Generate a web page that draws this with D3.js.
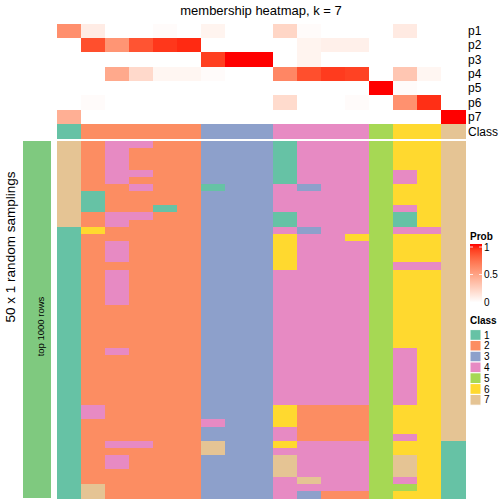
<!DOCTYPE html>
<html><head><meta charset="utf-8">
<script src="https://cdn.jsdelivr.net/npm/d3@7"></script>
<style>body{margin:0;background:#fff}svg{display:block;font-family:"Liberation Sans",Arial,Helvetica,sans-serif}</style>
</head><body><svg id="c" width="504" height="504"></svg>
<script>
// ---- data ----
const columns = d3.range(17).map(i => "s" + (i + 1));
const classLevels = [1, 2, 3, 4, 5, 6, 7];
const classColors = ["#66C2A5", "#FC8D62", "#8DA0CB", "#E78AC3", "#A6D854", "#FFD92F", "#E5C494"];
const columnClass = [1, 2, 2, 2, 2, 2, 3, 3, 3, 4, 4, 4, 4, 5, 6, 6, 7];
const probNames = ["p1", "p2", "p3", "p4", "p5", "p6", "p7"];
const p1 = [0.58, 0.10, 0, 0, 0.02, 0, 0.06, 0, 0, 0.22, 0.02, 0, 0, 0, 0.11, 0, 0];
const p2 = [0, 0.85, 0.55, 0.83, 0.92, 0.95, 0, 0, 0, 0, 0.06, 0.08, 0.08, 0, 0, 0, 0];
const p3 = [0, 0, 0, 0, 0, 0, 0.90, 1, 1, 0, 0.06, 0, 0, 0, 0, 0, 0];
const p4 = [0, 0, 0.45, 0.20, 0.05, 0.05, 0.02, 0, 0, 0.62, 0.85, 0.91, 0.89, 0, 0.30, 0.05, 0];
const p5 = [0, 0, 0, 0, 0, 0, 0, 0, 0, 0, 0, 0, 0, 1, 0.02, 0, 0];
const p6 = [0, 0.02, 0, 0, 0, 0, 0, 0, 0, 0.19, 0, 0, 0.02, 0, 0.57, 0.94, 0];
const p7 = [0.42, 0, 0, 0, 0, 0, 0, 0, 0, 0, 0, 0, 0, 0, 0, 0, 1];
const probRows = [p1, p2, p3, p4, p5, p6, p7];
// 50 random samplings x 17 columns, class label per cell
const samplingRows = [
"72442233314445667","72422233314445667","72422233314445667","72422233314445667",
"72442233314445467","72422233314445467","72242213343445667","71222233344445667",
"71222233344445667","71221233344445467","72442233314445167","72422233314445167",
"16222233343445447","12222233364465667","12422233364445667","12422233364445667",
"12422233364445667","12222233364445447","12422233344445667","12422233344445667",
"12422233344445667","12422233344445667","12422233344445667","12222233344445667",
"12222233344445667","12222233344445667","12222233344445667","12222233344445667",
"12222233344445667","12422233344445467","12222233344445467","12222233344445467",
"12222233344445467","12222233344445467","12222233344445467","12222233344445467",
"12222233344445467","14222233362225667","14222233362225667","12222243362225667",
"12222233342225667","12222233342225467","12442273364445661","12222273344445661",
"12422233374445761","12422233374445761","12222233374445761","12222233347445461",
"17222233344445561","17222233343225661"
];
const probTicks = [0, 0.5, 1];
const titleText = "membership heatmap, k = 7";

// ---- drawing ----
const svg = d3.select("#c");
const x = d3.scaleBand().domain(columns).range([57, 465]);
const yProb = d3.scaleBand().domain(probNames).range([23.5, 124]);
const yMain = d3.scaleBand().domain(d3.range(samplingRows.length)).range([141, 498]);
const probColor = d3.scaleLinear().domain([0, 1]).range(["#ffffff", "#ff0000"]).interpolate(d3.interpolateLab);
const classColor = d3.scaleOrdinal().domain(classLevels).range(classColors);

svg.append("text").attr("x", 261).attr("y", 15).attr("text-anchor", "middle")
  .attr("font-size", 13).text(titleText);

// probability rows
const gp = svg.append("g").attr("shape-rendering", "crispEdges");
probRows.forEach((vals, ri) => {
  gp.selectAll(null).data(vals).join("rect")
    .attr("x", (d, i) => x(columns[i])).attr("width", x.bandwidth() + 0.5)
    .attr("y", yProb(probNames[ri])).attr("height", yProb.bandwidth() + 0.5)
    .attr("fill", d => probColor(d));
});
// class row
gp.selectAll(null).data(columnClass).join("rect")
  .attr("x", (d, i) => x(columns[i])).attr("width", x.bandwidth() + 0.5)
  .attr("y", 124).attr("height", 14.5)
  .attr("fill", d => classColor(d));

// right labels
const labs = probNames.map(n => ({t: n, y: yProb(n) + yProb.bandwidth() / 2})).concat([{t: "Class", y: 131.2}]);
svg.selectAll(null).data(labs).join("text")
  .attr("x", 468).attr("y", d => d.y).attr("dy", "0.36em")
  .attr("font-size", 12).text(d => d.t);

// main heatmap
const gm = svg.append("g").attr("shape-rendering", "crispEdges");
samplingRows.forEach((row, ri) => {
  const vals = row.split("").map(Number);
  gm.selectAll(null).data(vals).join("rect")
    .attr("x", (d, i) => x(columns[i])).attr("width", x.bandwidth() + 0.5)
    .attr("y", yMain(ri)).attr("height", yMain.bandwidth() + 0.5)
    .attr("fill", d => classColor(d));
});

// left annotation bar
svg.append("rect").attr("x", 23).attr("y", 141).attr("width", 28).attr("height", 357).attr("fill", "#7FC97F");
svg.append("text").attr("transform", "translate(43.5,326.5) rotate(-90)")
  .attr("text-anchor", "middle").attr("font-size", 9.5).text("top 1000 rows");
svg.append("text").attr("transform", "translate(10,247) rotate(-90)")
  .attr("text-anchor", "middle").attr("dy", "0.36em").attr("font-size", 13.5).text("50 x 1 random samplings");

// Prob legend
svg.append("text").attr("x", 470).attr("y", 236).attr("dy", "0.36em")
  .attr("font-size", 10).attr("font-weight", "bold").text("Prob");
const defs = svg.append("defs");
const grad = defs.append("linearGradient").attr("id", "pg").attr("x1", 0).attr("y1", 1).attr("x2", 0).attr("y2", 0);
d3.range(0, 1.001, 0.1).forEach(t => grad.append("stop").attr("offset", t).attr("stop-color", probColor(t)));
const yLeg = d3.scaleLinear().domain([0, 1]).range([302, 247]);
svg.append("rect").attr("x", 470).attr("y", 244).attr("width", 12).attr("height", 58.5).attr("fill", "url(#pg)");
probTicks.forEach(t => {
  if (t > 0) {
    svg.append("line").attr("x1", 470).attr("x2", 473).attr("y1", yLeg(t)).attr("y2", yLeg(t)).attr("stroke", "#fff").attr("stroke-width", 0.8);
    svg.append("line").attr("x1", 479).attr("x2", 482).attr("y1", yLeg(t)).attr("y2", yLeg(t)).attr("stroke", "#fff").attr("stroke-width", 0.8);
  }
  svg.append("text").attr("x", 484).attr("y", yLeg(t)).attr("dy", "0.36em").attr("font-size", 10).text(String(t));
});

// Class legend
svg.append("text").attr("x", 470).attr("y", 320).attr("dy", "0.36em")
  .attr("font-size", 10).attr("font-weight", "bold").text("Class");
const lg = svg.append("g");
lg.selectAll("rect").data(classLevels).join("rect")
  .attr("x", 470).attr("y", (d, i) => 329.6 + i * 10.8).attr("width", 11).attr("height", 10.8)
  .attr("fill", d => classColor(d)).attr("stroke", "#fff").attr("stroke-width", 1);
lg.selectAll("text").data(classLevels).join("text")
  .attr("x", 484).attr("y", (d, i) => 335 + i * 10.8).attr("dy", "0.36em")
  .attr("font-size", 10).text(d => d);
</script></body></html>
